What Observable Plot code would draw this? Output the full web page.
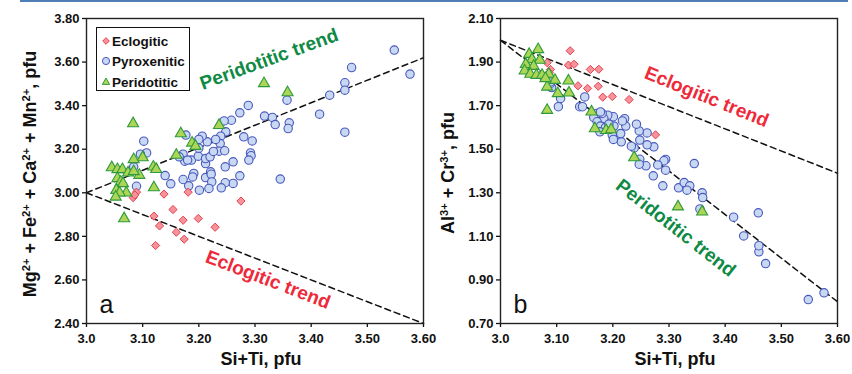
<!DOCTYPE html>
<html><head><meta charset="utf-8">
<script src="https://cdn.jsdelivr.net/npm/d3@7"></script>
<script src="https://cdn.jsdelivr.net/npm/@observablehq/plot@0.6"></script>
<style>
body{margin:0;background:#fff;}
#wrap{position:relative;width:852px;height:374px;overflow:hidden;font-family:"Liberation Sans",Arial,sans-serif;background:#fff;}
#topline{position:absolute;left:20px;top:0;width:828px;height:2px;background:#4f7db5;}
.panel{position:absolute;top:0;}
.panel svg{background:transparent !important;}
#legend{position:absolute;left:96px;top:27px;width:94px;height:64px;box-sizing:border-box;border:1.5px solid #111;background:#fff;}
#legend .row{position:absolute;left:0;height:20px;display:flex;align-items:center;}
#legend svg{width:14px;height:14px;margin-left:2px;}
#legend span{font-weight:bold;font-size:13.5px;color:#111;margin-left:-1px;}
.ylab{position:absolute;transform:translate(-50%,-50%) rotate(-90deg);white-space:nowrap;font-weight:bold;font-size:18px;line-height:1;color:#111;}
.ylab sup{font-size:0.62em;position:relative;top:-0.55em;vertical-align:baseline;line-height:0;}
</style></head><body>
<div id="wrap">
  <div id="topline"></div>
  <div id="pa" class="panel" style="left:0px"></div>
  <div id="pb" class="panel" style="left:430px"></div>
  <div id="legend"></div>
</div>
<script>
// ---------- data ----------
const seriesNames = ["Eclogitic", "Pyroxenitic", "Peridotitic"];
const xTicks = [3.0, 3.1, 3.2, 3.3, 3.4, 3.5, 3.6];
const xTickLabels = ["3.0", "3.10", "3.20", "3.30", "3.40", "3.50", "3.60"];
const yTicksA = [2.4, 2.6, 2.8, 3.0, 3.2, 3.4, 3.6, 3.8];
const yTickLabelsA = ["2.40", "2.60", "2.80", "3.00", "3.20", "3.40", "3.60", "3.80"];
const yTicksB = [0.7, 0.9, 1.1, 1.3, 1.5, 1.7, 1.9, 2.1];
const yTickLabelsB = ["0.70", "0.90", "1.10", "1.30", "1.50", "1.70", "1.90", "2.10"];
const xLabel = "Si+Ti, pfu";
const yLabelA = "Mg^{2+} + Fe^{2+} + Ca^{2+} + Mn^{2+}, pfu";
const yLabelB = "Al^{3+} + Cr^{3+}, pfu";

// Panel a
const ecloA_x = [3.083,3.089,3.086,3.138,3.181,3.275,3.120,3.130,3.154,3.172,3.199,3.160,3.174,3.229,3.123];
const ecloA_y = [2.978,3.003,2.990,2.994,3.003,2.962,2.893,2.848,2.923,2.874,2.882,2.819,2.787,2.842,2.758];
const peridA_x = [3.083,3.316,3.358,3.236,3.168,3.188,3.194,3.160,3.100,3.084,3.045,3.055,3.064,3.074,3.094,3.119,3.124,3.055,3.061,3.065,3.053,3.071,3.059,3.052,3.120,3.067,3.084];
const peridA_y = [3.318,3.502,3.460,3.310,3.272,3.229,3.214,3.173,3.162,3.153,3.116,3.107,3.107,3.092,3.081,3.119,3.108,3.066,3.050,3.043,3.012,3.000,3.000,2.981,3.024,2.882,3.098];
const pyroA_x = [3.548,3.576,3.472,3.460,3.460,3.433,3.415,3.460,3.357,3.361,3.359,3.345,3.317,3.331,3.336,3.288,3.273,3.258,3.245,3.280,3.295,3.292,3.293,3.289,3.261,3.247,3.273,3.261,3.247,3.240,3.248,3.239,3.238,3.236,3.246,3.230,3.215,3.206,3.200,3.177,3.172,3.175,3.187,3.199,3.212,3.212,3.220,3.212,3.221,3.222,3.223,3.218,3.201,3.191,3.189,3.182,3.172,3.150,3.140,3.102,3.107,3.096,3.084,3.089,3.165,3.200,3.226,3.180];
const pyroA_y = [3.655,3.545,3.575,3.505,3.471,3.448,3.361,3.278,3.425,3.321,3.295,3.063,3.352,3.346,3.313,3.401,3.367,3.333,3.330,3.257,3.238,3.183,3.170,3.150,3.142,3.119,3.078,3.043,3.046,3.023,3.280,3.260,3.226,3.191,3.193,3.245,3.234,3.260,3.245,3.265,3.177,3.145,3.150,3.168,3.134,3.157,3.165,3.070,3.096,3.085,3.050,3.020,3.012,3.089,3.073,3.032,3.061,3.041,3.079,3.237,3.183,3.177,3.119,3.030,3.165,3.205,3.190,3.150];
const trendX = [3.0, 3.6];
const trendPeridA = [3.0, 3.62];
const trendEcloA = [3.0, 2.40];

// Panel b
const ecloB_x = [3.124,3.083,3.089,3.087,3.121,3.131,3.160,3.175,3.138,3.155,3.174,3.182,3.199,3.229,3.276];
const ecloB_y = [1.952,1.897,1.866,1.851,1.886,1.890,1.866,1.867,1.791,1.779,1.789,1.739,1.742,1.728,1.566];
const peridB_x = [3.067,3.051,3.056,3.070,3.045,3.059,3.043,3.053,3.064,3.074,3.086,3.097,3.083,3.121,3.102,3.122,3.083,3.162,3.168,3.188,3.197,3.238,3.316,3.359,3.080];
const peridB_y = [1.958,1.936,1.912,1.909,1.890,1.881,1.860,1.845,1.840,1.840,1.845,1.817,1.786,1.814,1.756,1.759,1.679,1.672,1.595,1.587,1.590,1.462,1.236,1.213,1.825];
const pyroB_x = [3.576,3.548,3.472,3.460,3.460,3.459,3.433,3.415,3.345,3.359,3.360,3.355,3.317,3.327,3.337,3.332,3.294,3.291,3.294,3.280,3.289,3.272,3.273,3.261,3.261,3.259,3.248,3.247,3.248,3.247,3.242,3.238,3.233,3.221,3.223,3.217,3.215,3.201,3.202,3.199,3.201,3.191,3.184,3.181,3.171,3.166,3.172,3.178,3.187,3.193,3.177,3.150,3.141,3.107,3.103,3.091,3.089,3.214,3.146,3.077,3.089,3.178];
const pyroB_y = [0.841,0.810,0.975,1.029,1.057,1.208,1.102,1.188,1.434,1.300,1.278,1.226,1.323,1.347,1.332,1.312,1.453,1.447,1.404,1.428,1.332,1.378,1.511,1.575,1.520,1.424,1.454,1.431,1.542,1.584,1.615,1.506,1.514,1.640,1.606,1.630,1.534,1.649,1.606,1.565,1.545,1.656,1.641,1.664,1.664,1.646,1.626,1.606,1.600,1.615,1.580,1.740,1.695,1.733,1.695,1.783,1.802,1.572,1.695,1.832,1.809,1.671];
const trendEcloB = [2.0, 1.39];
const trendPeridB = [2.0, 0.80];

// ---------- helpers ----------
const rows = (xs, ys) => xs.map((x, i) => ({x, y: ys[i]}));
const FONT = '"Liberation Sans", Arial, sans-serif';
const C = {
  eclo: {fill: "#f5939b", stroke: "#e8404f"},
  pyro: {fill: "#c8d8f3", stroke: "#4758bd"},
  perid: {fill: "#add556", stroke: "#2f9a3d"},
  green: "#0e8a44", red: "#ee2a3a"
};
const lookup = (ticks, labels) => d => labels[ticks.findIndex(t => Math.abs(t - d) < 1e-9)];

function panel({width, marginLeft, marginRight, yDomain, yTicks, yTickLabels,
                eclo, pyro, perid, trends, labels, letter}) {
  return Plot.plot({
    width, height: 374, marginLeft, marginRight, marginTop: 18, marginBottom: 51,
    x: {domain: [3.0, 3.6]},
    y: {domain: yDomain},
    style: {fontFamily: FONT, background: "transparent", overflow: "visible", color: "#111"},
    marks: [
      Plot.axisX({ticks: xTicks, tickSize: 4, tickPadding: 6, tickFormat: lookup(xTicks, xTickLabels),
                  fontSize: 13, fontWeight: "bold", label: null, strokeWidth: 1.3}),
      Plot.axisY({ticks: yTicks, tickSize: 4, tickPadding: 3, tickFormat: lookup(yTicks, yTickLabels),
                  fontSize: 13, fontWeight: "bold", label: null, strokeWidth: 1.3}),
      ...trends.map(t => Plot.line(rows(trendX, t), {x: "x", y: "y", stroke: "#111", strokeWidth: 1.5, strokeDasharray: "6,4"})),
      Plot.dot(rows(...pyro), {x: "x", y: "y", symbol: "circle", r: 4.2, fill: C.pyro.fill, stroke: C.pyro.stroke, strokeWidth: 1.1}),
      Plot.dot(rows(...eclo), {x: "x", y: "y", symbol: "diamond2", r: 3.7, fill: C.eclo.fill, stroke: C.eclo.stroke, strokeWidth: 1}),
      Plot.dot(rows(...perid), {x: "x", y: "y", symbol: "triangle", r: 4.1, fill: C.perid.fill, stroke: C.perid.stroke, strokeWidth: 1.1}),
      ...labels.map(l => Plot.text([l.text], {x: () => l.x, y: () => l.y, text: d => d, rotate: l.rotate,
                  fill: l.color, fontSize: 19, fontWeight: "bold"})),
      Plot.text([letter], {text: d => d, frameAnchor: "bottom-left", dx: 13, dy: -11, lineAnchor: "bottom",
                  textAnchor: "start", fontSize: 25, fontWeight: "normal", fill: "#111"}),
      Plot.text([xLabel], {text: d => d, frameAnchor: "bottom", dx: 6, dy: 41, fontSize: 18, fontWeight: "bold", fill: "#111"}),
      Plot.frame({stroke: "#222", strokeWidth: 1.4})
    ]
  });
}

document.getElementById("pa").append(panel({
  width: 430, marginLeft: 86, marginRight: 7,
  yDomain: [2.4, 3.8], yTicks: yTicksA, yTickLabels: yTickLabelsA,
  eclo: [ecloA_x, ecloA_y], pyro: [pyroA_x, pyroA_y], perid: [peridA_x, peridA_y],
  trends: [trendPeridA, trendEcloA],
  labels: [
    {text: "Peridotitic trend", x: 3.325, y: 3.613, rotate: -20, color: C.green},
    {text: "Eclogitic trend", x: 3.323, y: 2.601, rotate: 21, color: C.red}
  ],
  letter: "a"
}));

document.getElementById("pb").append(panel({
  width: 422, marginLeft: 70, marginRight: 15,
  yDomain: [0.7, 2.1], yTicks: yTicksB, yTickLabels: yTickLabelsB,
  eclo: [ecloB_x, ecloB_y], pyro: [pyroB_x, pyroB_y], perid: [peridB_x, peridB_y],
  trends: [trendEcloB, trendPeridB],
  labels: [
    {text: "Eclogitic trend", x: 3.367, y: 1.740, rotate: 22, color: C.red},
    {text: "Peridotitic trend", x: 3.312, y: 1.138, rotate: 38, color: C.green}
  ],
  letter: "b"
}));

// y-axis titles (HTML, for true superscripts)
const wrap = document.getElementById("wrap");
[[yLabelA, 30, 174], [yLabelB, 448, 173]].forEach(([lab, cx, cy]) => {
  const d = document.createElement("div");
  d.className = "ylab";
  d.style.left = cx + "px";
  d.style.top = cy + "px";
  d.innerHTML = lab.replace(/\^\{([^}]*)\}/g, "<sup>$1</sup>");
  wrap.append(d);
});

// legend (HTML, overlaid on panel a)
const legendSymbols = {
  Eclogitic: `<svg viewBox="-7 -7 14 14"><path d="M0,-3.3L3.3,0L0,3.3L-3.3,0Z" fill="${C.eclo.fill}" stroke="${C.eclo.stroke}" stroke-width="1"/></svg>`,
  Pyroxenitic: `<svg viewBox="-7 -7 14 14"><circle r="3.6" fill="${C.pyro.fill}" stroke="${C.pyro.stroke}" stroke-width="1"/></svg>`,
  Peridotitic: `<svg viewBox="-7 -7 14 14"><path d="M0,-4L3.6,2.4L-3.6,2.4Z" fill="${C.perid.fill}" stroke="${C.perid.stroke}" stroke-width="1"/></svg>`
};
const legendTops = [3, 23, 44];
const lg = document.getElementById("legend");
seriesNames.forEach((name, i) => {
  const row = document.createElement("div");
  row.className = "row";
  row.style.top = legendTops[i] + "px";
  row.innerHTML = legendSymbols[name] + `<span>${name}</span>`;
  lg.append(row);
});
</script>
</body></html>
